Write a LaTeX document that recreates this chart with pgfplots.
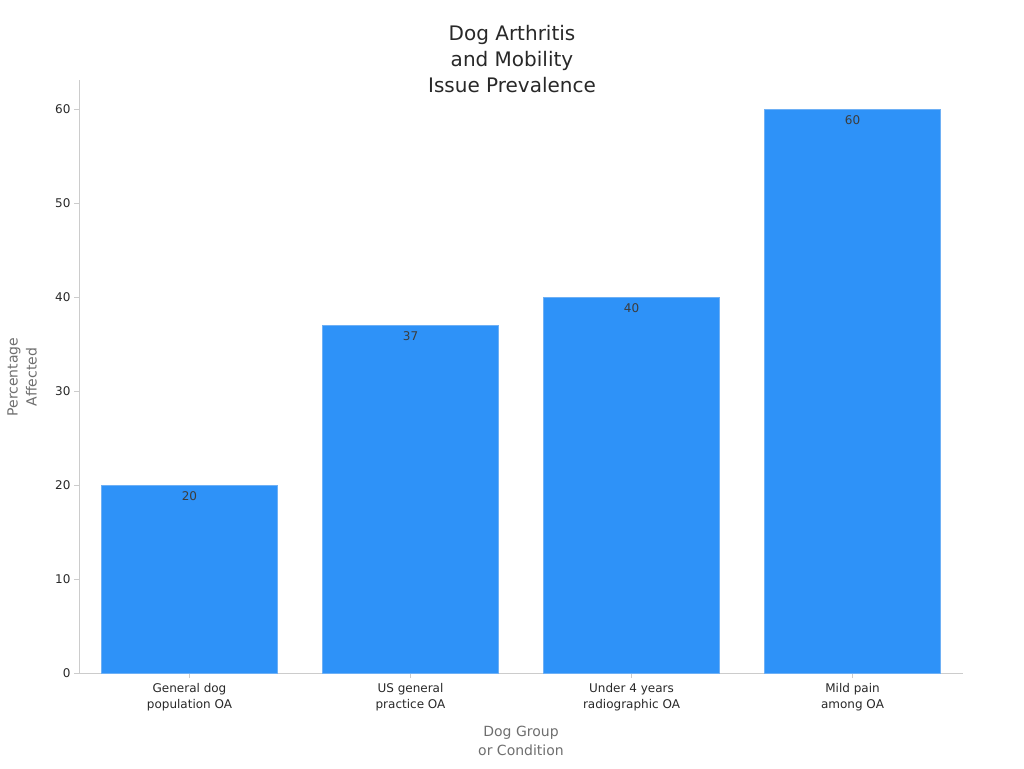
\documentclass[border=0pt]{standalone}
\usepackage{pgfplots}
\pgfplotsset{compat=1.18}
\usepackage{fontspec}
\setmainfont{DejaVu Sans}
\definecolor{barblue}{RGB}{46,146,248}
\definecolor{baredge}{RGB}{110,176,245}
\definecolor{axisgray}{RGB}{204,204,204}
\definecolor{txt}{RGB}{40,40,40}
\definecolor{barlbl}{RGB}{60,60,60}
\definecolor{lbl}{RGB}{110,110,110}
\begin{document}
\begin{tikzpicture}[x=1pt,y=1pt]
\path (0,0) rectangle (1024,768);
\begin{axis}[
    at={(79pt,95pt)}, anchor=south west,
    scale only axis,
    width=884pt, height=593pt,
    xmin=-0.5, xmax=3.5,
    ymin=0, ymax=63.1,
    axis x line*=bottom, axis y line*=left,
    axis line style={axisgray, line width=0.8pt},
    ytick={0,10,...,60},
    xtick=data,
    xticklabels={{General dog\\population OA},{US general\\practice OA},{Under 4 years\\radiographic OA},{Mild pain\\among OA}},
    xticklabel style={align=center, yshift=-2pt, font=\fontsize{12}{16}\selectfont, text=txt},
    yticklabel style={font=\fontsize{12}{14}\selectfont, text=txt},
    /pgf/number format/assume math mode=true,
    tick style={axisgray, line width=0.8pt},
    major tick length=5pt,
    tick align=outside,
    ybar, bar width=176pt,
    nodes near coords,
    every node near coord/.append style={anchor=north, yshift=-3pt, font=\fontsize{12}{14}\selectfont, text=barlbl},
    clip=false,
]
\addplot[fill=barblue, draw=baredge, line width=0.8pt] coordinates {(0,20) (1,37) (2,40) (3,60)};
\end{axis}
\node[align=center, font=\fontsize{20}{26}\selectfont, text=txt] at (512,709) {Dog Arthritis\\and Mobility\\Issue Prevalence};
\node[align=center, font=\fontsize{14}{19}\selectfont, text=lbl] at (521,27) {Dog Group\\or Condition};
\node[align=center, rotate=90, font=\fontsize{14}{19}\selectfont, text=lbl] at (22,391) {Percentage\\Affected};
\end{tikzpicture}
\end{document}
